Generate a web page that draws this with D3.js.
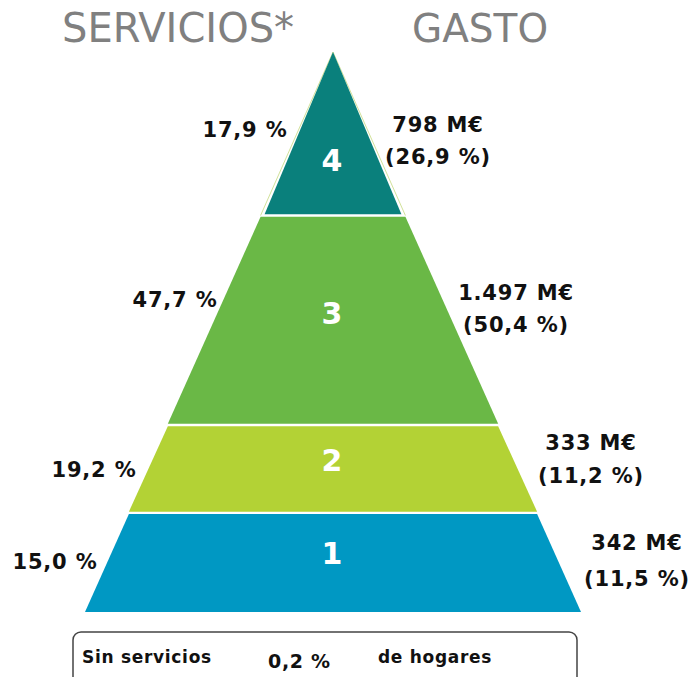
<!DOCTYPE html>
<html>
<head>
<meta charset="utf-8">
<script src="https://cdn.jsdelivr.net/npm/d3@7"></script>
<style>
  body { margin: 0; background: #fff; }
  text { font-family: "DejaVu Sans", Verdana, sans-serif; }
</style>
</head>
<body>
<div id="chart"></div>
<script>
// niveles de servicio, de abajo a arriba
const levels = ["1", "2", "3", "4"];
const servicios = ["15,0 %", "19,2 %", "47,7 %", "17,9 %"];
const gastoME = ["342 M€", "333 M€", "1.497 M€", "798 M€"];
const gastoPct = ["(11,5 %)", "(11,2 %)", "(50,4 %)", "(26,9 %)"];
const colors = ["#0098c3", "#b3d235", "#6ab846", "#0a807c"];
const sinServicios = "0,2 %";

// limites de cada franja como fraccion de la altura de la piramide
const bounds = [0, 0.177, 0.334, 0.708, 1];

const width = 694, height = 677;
const cx = 333;

const svg = d3.select("#chart").append("svg")
    .attr("width", width)
    .attr("height", height);

const y = d3.scaleLinear().domain([0, 1]).range([612, 52]);
const half = d3.scaleLinear().domain([0, 1]).range([248, 0]);

// titulos
svg.append("text")
    .attr("x", 178).attr("y", 42)
    .attr("text-anchor", "middle")
    .attr("font-size", 40)
    .attr("fill", "#808080")
    .text("SERVICIOS*");
svg.append("text")
    .attr("x", 480).attr("y", 42)
    .attr("text-anchor", "middle")
    .attr("font-size", 39)
    .attr("fill", "#808080")
    .text("GASTO");

// contorno fino de la piramide (se ve junto a la franja 4)
svg.append("path")
    .attr("d", d3.line()([
        [cx - half(bounds[3]), y(bounds[3])],
        [cx, y(1)],
        [cx + half(bounds[3]), y(bounds[3])]
    ]))
    .attr("fill", "none")
    .attr("stroke", "#d2e29a")
    .attr("stroke-width", 1);

const gap = 1.2;
const data = levels.map((l, i) => ({
    level: l, i: i,
    b0: bounds[i], b1: bounds[i + 1]
}));

svg.append("g").selectAll("path")
    .data(data)
    .join("path")
    .attr("d", d => {
        const inset = d.i === 3 ? 4 : 0;
        const yb = y(d.b0) - (d.i > 0 ? gap : 0);
        const yt = y(d.b1) + (d.i < 3 ? gap : 0);
        const hb = half(d.b0) - inset;
        const ht = Math.max(half(d.b1) - inset, 0);
        return d3.line()([
            [cx - hb, yb], [cx - ht, yt], [cx + ht, yt], [cx + hb, yb]
        ]) + "Z";
    })
    .attr("fill", d => colors[d.i]);

// numeros de nivel
const numY = [553, 460, 313, 160];
svg.append("g").selectAll("text")
    .data(data)
    .join("text")
    .attr("x", cx - 1)
    .attr("y", (d, i) => numY[i] + 11)
    .attr("text-anchor", "middle")
    .attr("font-size", 30)
    .attr("font-weight", "bold")
    .attr("fill", "#fff")
    .text(d => d.level);

// porcentaje de servicios a la izquierda
const lbl = sel => sel
    .attr("text-anchor", "middle")
    .attr("font-size", 21)
    .attr("letter-spacing", 0.8)
    .attr("font-weight", "bold")
    .attr("fill", "#111");

const leftPos = [[55, 569], [94, 477], [175, 307], [245, 137]];
svg.append("g").selectAll("text")
    .data(servicios)
    .join("text")
    .attr("x", (d, i) => leftPos[i][0])
    .attr("y", (d, i) => leftPos[i][1])
    .call(lbl)
    .text(d => d);

// gasto a la derecha
const rightPos = [[637, 550, 586], [591, 450, 483], [516, 300, 332], [438, 132, 164]];
const right = svg.append("g");
right.selectAll("text.me")
    .data(gastoME)
    .join("text")
    .attr("class", "me")
    .attr("x", (d, i) => rightPos[i][0])
    .attr("y", (d, i) => rightPos[i][1])
    .call(lbl)
    .text(d => d);
right.selectAll("text.pct")
    .data(gastoPct)
    .join("text")
    .attr("class", "pct")
    .attr("x", (d, i) => rightPos[i][0])
    .attr("y", (d, i) => rightPos[i][2])
    .call(lbl)
    .text(d => d);

// recuadro inferior
svg.append("rect")
    .attr("x", 73).attr("y", 632)
    .attr("width", 504).attr("height", 70)
    .attr("rx", 8)
    .attr("fill", "none")
    .attr("stroke", "#444")
    .attr("stroke-width", 1.5);
const boxText = [["Sin servicios", 82, 663, 17], [sinServicios, 268, 668, 19], ["de hogares", 378, 663, 17]];
svg.append("g").selectAll("text")
    .data(boxText)
    .join("text")
    .attr("x", d => d[1]).attr("y", d => d[2])
    .attr("font-size", d => d[3])
    .attr("letter-spacing", 0.7)
    .attr("font-weight", "bold")
    .attr("fill", "#111")
    .text(d => d[0]);
</script>
</body>
</html>
